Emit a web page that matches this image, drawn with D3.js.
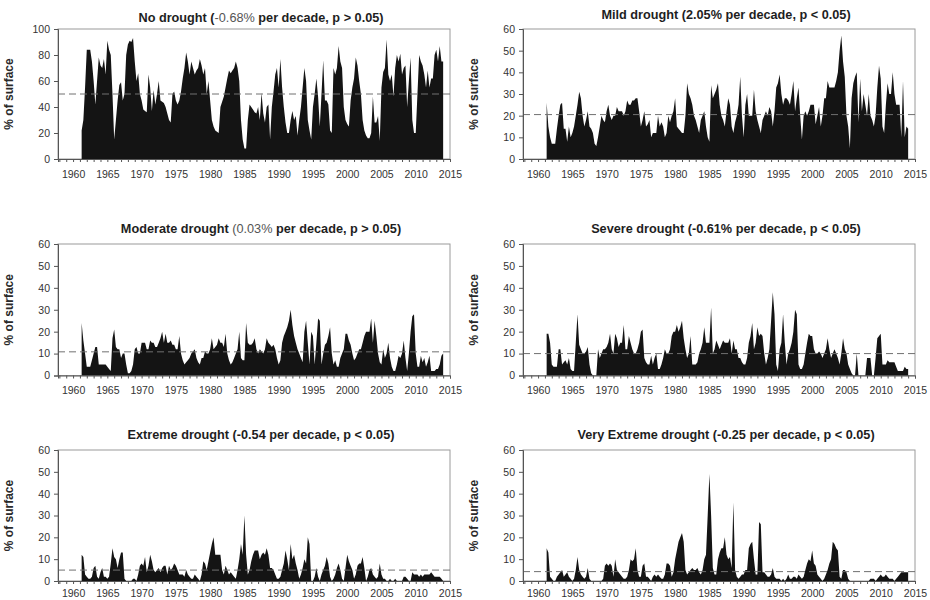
<!DOCTYPE html>
<html>
<head>
<meta charset="utf-8">
<script src="https://cdn.jsdelivr.net/npm/d3@7"></script>
<style>
  body { margin: 0; background: #fff; }
  svg text { font-family: Arial, "Liberation Sans", sans-serif; }
</style>
</head>
<body>
<svg id="chart" width="930" height="600"></svg>
<script>
// quarterly values, first one at 1961.25, last at 2014.0
const startYear = 1961.25
const step = 0.25

const noDrought = [
  22, 30, 55,          // 1961
  84, 84, 84, 75,  60, 42, 60, 78,  72, 70, 77, 65,  91, 84, 80, 50,   // 1962-65
  15, 30, 45, 57,  59, 45, 50, 80,  88, 91, 90, 93,  75, 60, 66, 50,   // 1966-69
  45, 38, 37, 36,  65, 55, 37, 53,  42, 50, 60, 45,  44, 43, 40, 35,   // 1970-73
  30, 28, 50, 52,  45, 42, 45, 52,  62, 70, 82, 75,  65, 75, 70, 65,   // 1974-77
  68, 70, 77, 72,  65, 70, 50, 60,  45, 30, 25, 22,  21, 20, 40, 44,   // 1978-81
  48, 55, 62, 68,  66, 68, 70, 75,  70, 60, 30, 15,   8,  8, 30, 42,   // 1982-85
  40, 38, 36, 35,  40, 30, 51, 35,  28, 40, 42, 15,  40, 52, 65, 70,   // 1986-89
  55, 77, 55, 40,  28, 20, 20, 30,  37, 30, 33, 18,  30, 40, 55, 70,   // 1990-93
  60, 30, 22, 15,  40, 50, 62, 48,  25, 50, 76, 45,  45, 42, 22, 20,   // 1994-97
  70, 65, 70, 87,  75, 70, 40, 30,  27, 25, 45, 55,  62, 78, 72, 60,   // 1998-01
  50, 30, 22, 18,  16, 16, 20, 48,  28, 28, 33, 14,  55, 67, 70, 92,   // 2002-05
  65, 60, 65, 48,  70, 80, 75, 81,  65, 70, 72, 40,  60, 78, 30, 20,   // 2006-09
  20, 50, 80, 75,  72, 65, 55, 68,  55, 62, 62, 80,  84, 75, 87, 75,   // 2010-13
  75                   // 2014
]

const mildDrought = [
  26, 15, 10,
   7,  7,  7, 14,  20, 25, 26, 14,  14,  8, 15, 10,  12, 15, 20, 25,
  31, 28, 20, 15,  18, 22, 15, 14,  12,  7,  6, 10,  15, 20, 18, 17,
  22, 25, 20, 18,  20, 20, 24, 22,  22, 22, 20, 22,  27, 25, 25, 27,
  27, 28, 28, 22,  15, 18, 22, 15,  16, 18, 10, 12,  12, 12, 20, 15,
  17, 15, 10, 12,  20, 17, 20, 22,  28, 15, 14, 13,  12, 12, 20, 35,
  30, 28, 25, 20,  18, 15, 12, 18,  20, 22, 15, 10,   8, 34, 28, 30,
  32, 35, 25, 20,  18, 15, 22, 28,  25, 15, 12, 17,  20, 25, 38, 20,
  10, 25, 30, 20,  20, 20, 32, 22,  18, 15, 12, 18,  20, 22, 20, 24,
  22, 15, 22, 33,  35, 39, 30, 25,  28, 28, 27, 25,  30, 36, 22, 28,
  33, 20,  9, 20,  22, 20, 22, 25,  25, 25, 16, 20,  24, 15, 20, 28,
  28, 36, 33, 33,  33, 33, 36, 40,  50, 57, 45, 38,  20, 15,  5, 28,
  35, 38, 40, 17,  37, 22, 30, 25,  20, 30, 20, 18,  15, 20, 33, 43,
  37, 15, 12, 25,  35, 30, 30, 40,  30, 25, 25, 25,  10, 36, 10, 15,
  14
]

const moderateDrought = [
  24, 16, 10,
   4,  4,  4,  7,  10, 13, 13,  5,   5,  5,  5,  5,   4,  3,  2, 17,
  21, 13, 12, 12,   8, 10, 10,  5,   1,  1,  2,  5,  12, 13, 10, 10,
  15, 15, 15, 12,  12, 16, 15, 15,  13, 13, 15, 17,  20, 15, 19, 15,
  15, 16, 14, 14,  12, 12, 18, 10,   7,  5,  6,  7,   8, 10, 11, 12,
   8,  6,  5,  8,   8, 11, 10, 10,  12, 17, 12, 13,  14, 17, 15, 15,
  13, 19, 10,  7,   5,  6,  8, 10,  12, 20,  8,  7,   7, 24, 15, 14,
  14, 15, 17, 12,  10, 12, 11, 10,  12, 17, 15, 14,  13, 14, 12,  8,
   5,  7, 15, 18,  20, 22, 25, 30,  23, 18, 15, 12,  10,  8,  6, 20,
  25, 15,  5, 20,  18,  5, 15, 26,  25,  5, 10, 14,  15, 18, 22, 10,
   5,  7,  4,  4,   8, 10, 12, 19,  19, 16, 14, 10,   7,  8, 10, 12,
  12, 15, 18, 20,  20, 20, 26, 15,  25, 18, 10,  6,   5, 12,  8, 10,
  15,  8,  4,  2,   2,  5,  9,  8,  10, 16,  8,  2,  10, 20, 27, 28,
  10,  4,  4,  9,   6,  8,  4,  6,   9,  2,  2,  2,   3,  3,  5,  9,
  10
]

const severeDrought = [
  19, 19, 15,
   5,  4,  4,  4,  12, 12,  5,  6,   7,  5,  8,  3,   2,  2, 15, 28,
  14, 12, 10, 10,  11, 13,  5,  1,   0,  0,  0, 12,   8, 10, 12, 12,
  13, 15, 19, 12,  10, 19, 17, 13,  15, 15, 23, 12,  12, 18, 15, 12,
  10, 10, 12, 15,  20, 21,  8,  6,   5,  5,  9,  5,   8, 10,  3,  3,
   5,  8, 12, 10,  10, 12, 18, 20,  20, 23, 20, 22,  25, 17, 12,  8,
  10, 18,  5,  5,   5,  6, 10, 12,  15, 22, 15, 15,  15, 31, 10, 12,
  16, 14, 12, 14,  16, 15, 15, 15,  17, 10, 16, 12,  12,  8,  8,  6,
   5,  5,  8, 15,  18, 24, 12, 15,  22, 18, 19, 18,  10,  5,  8, 12,
  25, 38, 28,  5,   2, 12, 15, 28,  15,  5, 10, 12,  15, 20, 30, 28,
   5,  3,  3,  5,  10, 15, 19, 18,  18, 12, 10, 10,  11, 10,  8, 10,
  12, 17, 12,  8,  10, 12, 10,  8,   5, 10, 17, 12,  10,  5,  3,  1,
   0,  0, 10,  0,   0,  0,  0,  0,   8,  8,  8,  0,   0,  8, 17, 18,
  19,  5,  5,  5,   7,  6,  6,  6,   6,  4,  2,  2,   2,  2,  4,  3,
   3
]

const extremeDrought = [
  12, 11,  3,
   2,  1,  1,  2,   6,  7,  2,  1,   4,  6,  2,  2,   1,  2,  8, 15,
  11, 10,  6, 10,  13, 13,  1,  0,   0,  0,  0,  1,   1,  0,  3,  7,
   8,  7, 11,  4,   7, 12,  9,  5,   4,  5,  6,  4,   6,  7,  7,  3,
   7,  5,  6,  8,   7,  5,  3,  3,   3,  2,  5,  3,   2,  1,  1,  3,
   2,  1,  0,  3,   9,  8,  5,  9,  13, 17, 20, 12,  12, 12, 12,  5,
   3,  7,  5,  3,   4,  3,  2,  1,   5, 10, 17, 12,  30, 12,  3,  5,
   9, 12, 14, 14,  14, 10, 12, 13,  12, 15, 12,  6,   6,  5,  3,  1,
   1,  2,  5,  8,  14, 10,  5, 17,  10, 12,  8,  5,   1,  3,  6, 10,
   8, 20, 17,  0,   0,  2,  6,  2,   0,  3,  5,  7,  11,  8,  2,  0,
   1,  3,  6,  8,   5,  1,  0,  6,  12,  9,  7,  5,   1,  3,  7,  8,
   8, 11,  6,  0,   2,  5,  6,  3,   2,  1,  2,  8,   3,  1,  1,  0,
   0,  1,  0,  0,   1,  0,  0,  0,   0,  2,  2,  1,   0,  0,  4,  3,
   3,  3,  2,  3,   2,  3,  3,  3,   3,  4,  3,  2,   2,  2,  2,  1,
   0
]

const veryExtremeDrought = [
  15, 13,  2,
   1,  0,  0,  2,   3,  4,  5,  2,   3,  4,  2,  1,   0,  1,  5, 11,
   5,  3,  2,  1,   2,  6,  1,  0,   0,  0,  0,  0,   0,  0,  1,  7,
   8,  7,  8,  7,   2, 10,  5,  4,   3,  2,  1,  1,   2,  5, 10,  9,
  10, 15,  5,  2,   2,  7,  8,  2,   2,  1,  0,  2,   3,  2,  3,  2,
   1,  1,  3,  8,   8,  7,  2,  4,  10, 14, 18, 20,  22, 18,  5,  3,
   4,  5,  6,  5,   5,  6,  4,  3,   5, 10, 12, 30,  49, 30,  6,  3,
   3, 10, 13, 15,  15, 20, 12, 10,  11,  6, 36,  5,   2,  1,  2,  3,
   3,  5,  5, 15,  17, 18, 10,  3,   3, 27, 26,  4,   4,  3,  2,  2,
   3,  6,  2,  1,   1,  1,  0,  1,   0,  1,  3,  1,   1,  2,  2,  1,
   3,  2,  1,  2,   5,  8, 10,  9,  14,  8,  7,  3,   2,  1,  0,  1,
   3,  5,  8, 10,  18, 17, 15, 14,   2,  1,  5,  5,   4,  1,  0,  0,
   0,  0,  0,  0,   0,  0,  0,  0,   0,  0,  1,  1,   1,  0,  1,  2,
   3,  2,  2,  3,   2,  1,  1,  1,   0,  1,  2,  3,   4,  4,  4,  4,
   4
]

// title pieces: [bold, light, bold]
const titles = [
  ['No drought (', '-0.68%', ' per decade, p > 0.05)'],
  ['Mild drought (2.05% per decade, p < 0.05)', '', ''],
  ['Moderate drought ', '(0.03%', ' per decade, p > 0.05)'],
  ['Severe drought (-0.61% per decade, p < 0.05)', '', ''],
  ['Extreme drought (-0.54 per decade, p < 0.05)', '', ''],
  ['Very Extreme drought (-0.25 per decade, p < 0.05)', '', '']
]
const means = [50, 20.5, 10.8, 10, 5, 4.3]
const yMax = [100, 60, 60, 60, 60, 60]
const yStep = [20, 10, 10, 10, 10, 10]
const yLabel = '% of surface'
const yearTicks = d3.range(1958, 2016)

const series = [noDrought, mildDrought, moderateDrought, severeDrought, extremeDrought, veryExtremeDrought]

const svg = d3.select('#chart')
const cols = [58, 523]
const plotW = 392
const rows = [
  {top: 29, h: 130, pad: 9, titleY: [22, 19]},
  {top: 244, h: 131.5, pad: 8, titleY: [233, 233]},
  {top: 450, h: 131, pad: 6, titleY: [439, 439]}
]

series.forEach((vals, i) => {
  const left = cols[i % 2]
  const r = rows[Math.floor(i / 2)]
  const g = svg.append('g').attr('transform', `translate(${left},${r.top})`)

  const x = d3.scaleLinear().domain([1957.8, 2015]).range([0, plotW])
  const y = d3.scaleLinear().domain([0, yMax[i]]).range([r.h, 0])

  // light frame on top / right
  g.append('rect')
    .attr('width', plotW).attr('height', r.h)
    .attr('fill', 'none').attr('stroke', '#9a9a9a')

  const area = d3.area()
    .x((d, k) => x(startYear + k * step))
    .y0(y(0))
    .y1(d => y(d))
  g.append('path').datum(vals)
    .attr('d', area)
    .attr('fill', '#141414')

  // long-term mean
  g.append('line')
    .attr('x1', 0).attr('x2', plotW)
    .attr('y1', y(means[i])).attr('y2', y(means[i]))
    .attr('stroke', '#707070').attr('stroke-width', 1)
    .attr('stroke-dasharray', '7,4')

  const xAxis = g.append('g')
    .attr('transform', `translate(0,${r.h})`)
    .call(d3.axisBottom(x).tickValues(yearTicks).tickSize(3).tickPadding(r.pad)
      .tickFormat(d => d % 5 === 0 ? d : ''))
  const yAxis = g.append('g')
    .call(d3.axisLeft(y).tickValues(d3.range(0, yMax[i] + 1, yStep[i])).tickSize(4).tickPadding(4))

  for (const a of [xAxis, yAxis]) {
    a.select('.domain').attr('stroke', '#555')
    a.selectAll('.tick line').attr('stroke', '#555')
    a.selectAll('text').attr('fill', '#333').attr('font-size', 10.5)
  }

  g.append('text')
    .attr('transform', `translate(-45,${r.h / 2}) rotate(-90)`)
    .attr('text-anchor', 'middle')
    .attr('font-size', 12).attr('font-weight', 'bold').attr('fill', '#2a2a2a')
    .text(yLabel)

  const t = svg.append('text')
    .attr('x', left + plotW / 2 + 7)
    .attr('y', r.titleY[i % 2])
    .attr('text-anchor', 'middle')
    .attr('font-size', 12.7).attr('fill', '#1e1e1e')
  t.append('tspan').attr('font-weight', 'bold').text(titles[i][0])
  t.append('tspan').attr('font-weight', 'normal').attr('fill', '#555').text(titles[i][1])
  t.append('tspan').attr('font-weight', 'bold').text(titles[i][2])
})
</script>
</body>
</html>
